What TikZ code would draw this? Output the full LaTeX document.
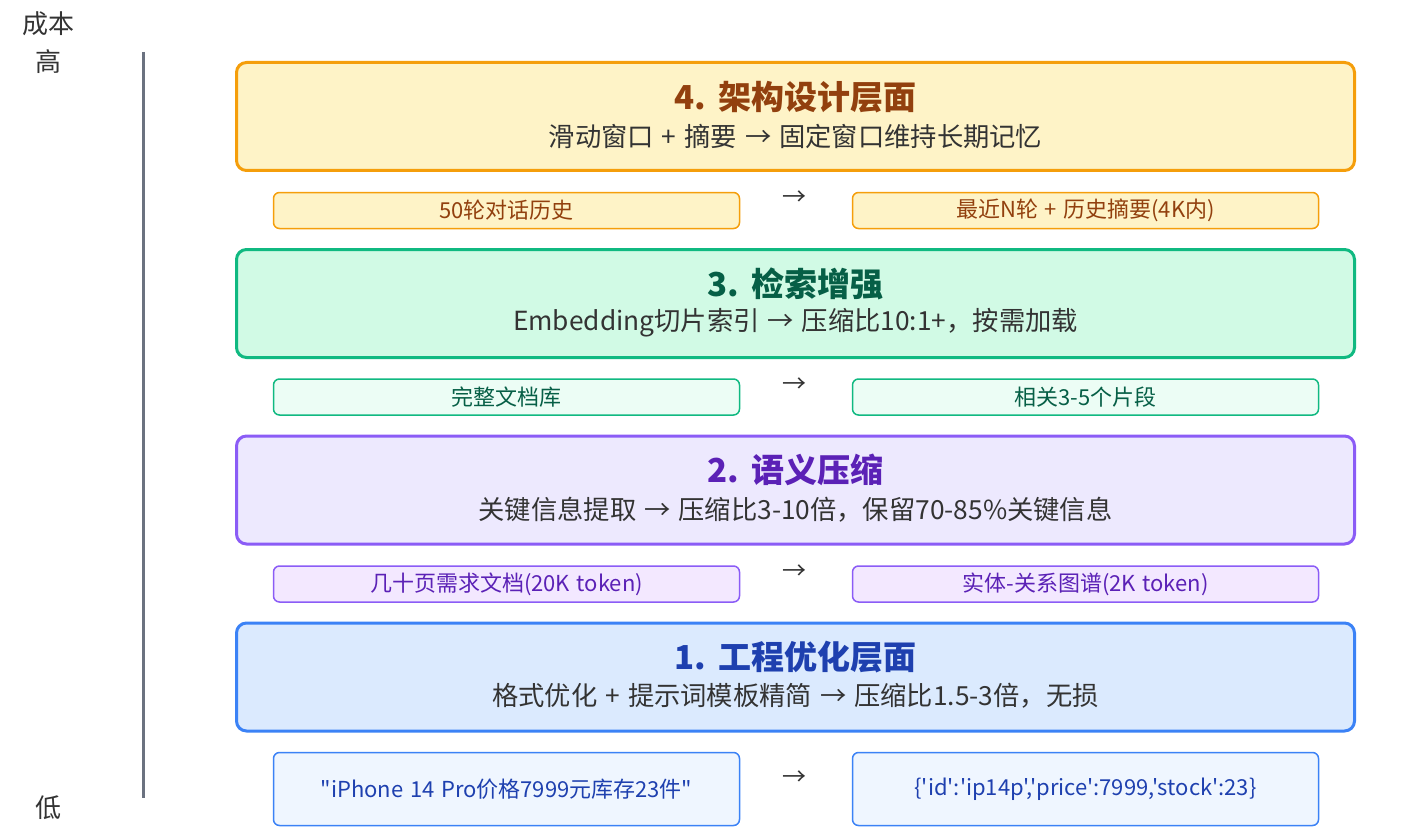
\documentclass[tikz,border=0pt]{standalone}
\usepackage{fontspec}
\setmainfont{Noto Sans CJK SC}[Ligatures=TeXOff, WordSpace=1.35]
\definecolor{subc}{HTML}{333333}
\definecolor{axisc}{HTML}{6B7280}
\definecolor{orB}{HTML}{F59E0B}\definecolor{orF}{HTML}{FEF3C7}\definecolor{orT}{HTML}{92400E}
\definecolor{grB}{HTML}{10B981}\definecolor{grF}{HTML}{D1FAE5}\definecolor{grT}{HTML}{065F46}\definecolor{grS}{HTML}{ECFDF5}
\definecolor{puB}{HTML}{8B5CF6}\definecolor{puF}{HTML}{EDE9FE}\definecolor{puT}{HTML}{5B21B6}\definecolor{puS}{HTML}{F3E8FF}
\definecolor{blB}{HTML}{3B82F6}\definecolor{blF}{HTML}{DBEAFE}\definecolor{blT}{HTML}{1E40AF}\definecolor{blS}{HTML}{EFF6FF}
\begin{document}
\begin{tikzpicture}[x=1pt,y=-1pt,
  bigbox/.style={draw, line width=3pt, rounded corners=10pt, minimum width=1118pt, minimum height=108pt, inner sep=0pt},
  smallbox/.style={draw, line width=1.5pt, rounded corners=6pt, minimum width=466pt, minimum height=36pt, inner sep=0pt},
  ttl/.style={font=\fontsize{33}{38}\selectfont\bfseries, inner sep=0pt},
  sub/.style={font=\fontsize{26.3}{30}\selectfont, text=subc, inner sep=0pt},
  sml/.style={font=\fontsize{22}{26}\selectfont},
  arr/.style={font=\fontsize{24}{28}\selectfont, text=subc, inner sep=0pt},
  lab/.style={font=\fontsize{26}{30}\selectfont, text=subc, inner sep=0pt},
]
\useasboundingbox (0,0) rectangle (1412,837);
% axis
\node[lab] (cb) at (48,24) {成本};
\node[lab] (hi) at (48,62) {高};
\node[lab] (lo) at (48,808) {低};
\coordinate (axtop) at (143,52);
\coordinate (axbot) at (143,798);
\draw[axisc, line width=3pt] (axtop) -- (axbot);

% level 4
\node[bigbox, draw=orB, fill=orF] (b4) at (795.5,116.5) {};
\node[ttl, text=orT] (t4) at (795.5,97) {4. 架构设计层面};
\node[sub] (s4) at (795.5,136) {滑动窗口 + 摘要 → 固定窗口维持长期记忆};
\node[smallbox, draw=orB, fill=orF, text=orT, sml] (l4) at (506.5,210.5) {50轮对话历史};
\node[smallbox, draw=orB, fill=orF, text=orT, sml] (r4) at (1085.5,210.5) {最近N轮 + 历史摘要(4K内)};
\node[arr] (a4) at (794,198) {→};

% level 3
\node[bigbox, draw=grB, fill=grF] (b3) at (795.5,303.5) {};
\node[ttl, text=grT] (t3) at (795.5,284) {3. 检索增强};
\node[sub] (s3) at (795.5,323) {Embedding切片索引 → 压缩比10:1+，按需加载};
\node[smallbox, draw=grB, fill=grS, text=grT, sml] (l3) at (506.5,397) {完整文档库};
\node[smallbox, draw=grB, fill=grS, text=grT, sml] (r3) at (1085.5,397) {相关3-5个片段};
\node[arr] (a3) at (794,385) {→};

% level 2
\node[bigbox, draw=puB, fill=puF] (b2) at (795.5,490) {};
\node[ttl, text=puT] (t2) at (795.5,470) {2. 语义压缩};
\node[sub] (s2) at (795.5,510) {关键信息提取 → 压缩比3-10倍，保留70-85\%关键信息};
\node[smallbox, draw=puB, fill=puS, text=puT, sml] (l2) at (506.5,584) {几十页需求文档(20K token)};
\node[smallbox, draw=puB, fill=puS, text=puT, sml] (r2) at (1085.5,584) {实体-关系图谱(2K token)};
\node[arr] (a2) at (794,572) {→};

% level 1
\node[bigbox, draw=blB, fill=blF] (b1) at (795.5,677) {};
\node[ttl, text=blT] (t1) at (795.5,657) {1. 工程优化层面};
\node[sub] (s1) at (795.5,696) {格式优化 + 提示词模板精简 → 压缩比1.5-3倍，无损};
\node[smallbox, draw=blB, fill=blS, text=blT, sml, minimum height=73pt] (l1) at (506.5,789) {"iPhone 14 Pro价格7999元库存23件"};
\node[smallbox, draw=blB, fill=blS, text=blT, sml, minimum height=73pt] (r1) at (1085.5,789) {\{'id':'ip14p','price':7999,'stock':23\}};
\node[arr] (a1) at (794,778) {→};
\end{tikzpicture}
\end{document}
